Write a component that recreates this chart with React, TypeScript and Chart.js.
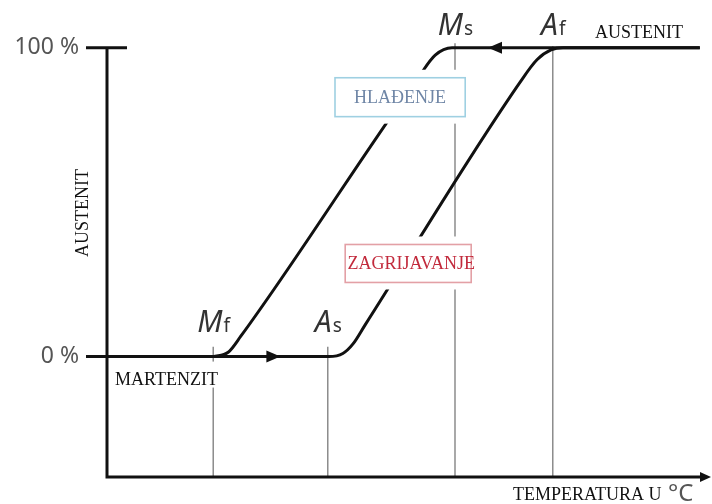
import React, { useEffect, useRef } from "react";
import { Chart, registerables } from "chart.js";

Chart.register(...registerables);

// Temperature (arbitrary units 0..100) vs. austenite fraction (%)
const heatingTemp = [0, 37, 39.3, 41, 43, 69, 71.7, 74, 76, 98.8];
const heatingPct = [0, 0, 1.0, 4.1, 10.2, 89.3, 96.2, 99.3, 100, 100];

const coolingTemp = [17.7, 20.2, 22.3, 52, 54.7, 57.5, 98.8];
const coolingPct = [0, 1.4, 6.6, 90.7, 97.6, 100, 100];

const markerMain = ["M", "A", "M", "A"];
const markerSub = ["f", "s", "s", "f"];
const markerTemp = [17.7, 36.8, 58, 74.3];
const markerTop = [3.2, 3.2, 101.5, 100.5];
const markerLabelPct = [7.8, 7.8, 104.2, 104.2];

const yTickValues = [100, 0];
const yTickLabels = ["100 %", "0 %"];

const axisMin = { x: 0, y: -39 };
const axisMax = { x: 100, y: 109 };

const boxTexts = ["HLAĐENJE", "ZAGRIJAVANJE"];
const boxX0 = [38, 39.7];
const boxX1 = [59.7, 60.7];
const boxYTop = [90.3, 36.3];
const boxYBottom = [77.7, 24.0];
const boxBorder = ["#9fd0e2", "#e3a0a6"];
const boxColor = ["#6f86a6", "#c22a3c"];

const arrowTip = [{ x: 28.9, y: 0, dir: 1 }, { x: 63.5, y: 100, dir: -1 }];

const SERIF = '"Liberation Serif", "Times New Roman", serif';
const SANS = '"Noto Sans", "Open Sans", sans-serif';

function pts(xs: number[], ys: number[]) {
  return xs.map((x, i) => ({ x, y: ys[i] }));
}

const overlay = {
  id: "overlay",
  afterDatasetsDraw(chart: any) {
    const ctx: CanvasRenderingContext2D = chart.ctx;
    const xs = chart.scales.x;
    const ys = chart.scales.y;
    const X = (v: number) => xs.getPixelForValue(v);
    const Y = (v: number) => ys.getPixelForValue(v);
    const area = chart.chartArea;
    ctx.save();

    // axes
    ctx.strokeStyle = "#111";
    ctx.lineWidth = 3;
    ctx.lineCap = "butt";
    ctx.beginPath();
    ctx.moveTo(area.left, Y(100));
    ctx.lineTo(area.left, area.bottom);
    ctx.lineTo(area.right - 2, area.bottom);
    ctx.stroke();
    // x axis arrow
    ctx.fillStyle = "#111";
    ctx.beginPath();
    ctx.moveTo(711, area.bottom);
    ctx.lineTo(700, area.bottom - 5);
    ctx.lineTo(700, area.bottom + 5);
    ctx.closePath();
    ctx.fill();

    // y ticks
    ctx.beginPath();
    ctx.moveTo(area.left - 21, Y(100));
    ctx.lineTo(area.left + 20, Y(100));
    ctx.moveTo(area.left - 21, Y(0));
    ctx.lineTo(area.left, Y(0));
    ctx.stroke();

    ctx.fillStyle = "#555";
    ctx.font = `23px ${SANS}`;
    ctx.textAlign = "right";
    ctx.textBaseline = "middle";
    yTickValues.forEach((v, i) => {
      ctx.fillText(yTickLabels[i], area.left - 28, Y(v));
    });

    // arrows on curves
    ctx.fillStyle = "#111";
    arrowTip.forEach((a) => {
      const tx = X(a.x);
      const ty = Y(a.y);
      ctx.beginPath();
      ctx.moveTo(tx, ty);
      ctx.lineTo(tx - a.dir * 14, ty - 6);
      ctx.lineTo(tx - a.dir * 14, ty + 6);
      ctx.closePath();
      ctx.fill();
    });

    // boxes
    boxTexts.forEach((t, i) => {
      const x0 = X(boxX0[i]);
      const x1 = X(boxX1[i]);
      const y0 = Y(boxYTop[i]);
      const y1 = Y(boxYBottom[i]);
      ctx.fillStyle = "#fff";
      ctx.fillRect(x0 - 7, y0 - 8, x1 - x0 + 14, y1 - y0 + 15);
      ctx.strokeStyle = boxBorder[i];
      ctx.lineWidth = 1.6;
      ctx.strokeRect(x0, y0, x1 - x0, y1 - y0);
      ctx.fillStyle = boxColor[i];
      ctx.font = `18px ${SERIF}`;
      ctx.textAlign = "center";
      ctx.textBaseline = "middle";
      ctx.fillText(t, (x0 + x1) / 2 + (i === 1 ? 3 : 0), (y0 + y1) / 2 + 1);
    });

    // marker labels
    markerMain.forEach((m, i) => {
      ctx.font = `italic 30px ${SANS}`;
      const w1 = ctx.measureText(m).width;
      ctx.font = `19px ${SANS}`;
      const w2 = ctx.measureText(markerSub[i]).width;
      const start = X(markerTemp[i]) - (w1 + w2) / 2;
      const base = Y(markerLabelPct[i]);
      ctx.fillStyle = "#333";
      ctx.textAlign = "left";
      ctx.textBaseline = "alphabetic";
      ctx.font = `italic 30px ${SANS}`;
      ctx.fillText(m, start, base);
      ctx.font = `19px ${SANS}`;
      ctx.fillText(markerSub[i], start + w1 + 1, base);
    });

    // MARTENZIT with white background
    ctx.font = `18px ${SERIF}`;
    ctx.textAlign = "left";
    ctx.textBaseline = "alphabetic";
    const mw = ctx.measureText("MARTENZIT").width;
    ctx.fillStyle = "#fff";
    ctx.fillRect(113, Y(0) + 5, mw + 6, 26);
    ctx.fillStyle = "#111";
    ctx.fillText("MARTENZIT", 115, Y(0) + 28);

    // AUSTENIT top right
    ctx.fillText("AUSTENIT", 595, 38);

    // axis titles
    ctx.fillText("TEMPERATURA U", 513, 500);
    ctx.fillStyle = "#555";
    ctx.font = `24px ${SANS}`;
    ctx.fillText("°C", 668, 501);

    ctx.save();
    ctx.translate(88, 213);
    ctx.rotate(-Math.PI / 2);
    ctx.fillStyle = "#111";
    ctx.font = `18px ${SERIF}`;
    ctx.textAlign = "center";
    ctx.textBaseline = "alphabetic";
    ctx.fillText("AUSTENIT", 0, 0);
    ctx.restore();

    ctx.restore();
  },
};

export default function App() {
  const ref = useRef<HTMLCanvasElement>(null);
  useEffect(() => {
    document.body.style.margin = "0";
    const canvas = ref.current!;
    const vertical = markerTemp.map((t, i) => ({
      data: [
        { x: t, y: axisMin.y },
        { x: t, y: markerTop[i] },
      ],
      borderColor: "#7a7a7a",
      borderWidth: 1.3,
      pointRadius: 0,
      order: 5,
      clip: false as any,
    }));
    const chart = new Chart(canvas, {
      type: "line",
      data: {
        datasets: [
          {
            label: "Zagrijavanje",
            data: pts(heatingTemp, heatingPct),
            borderColor: "#111",
            borderWidth: 3,
            pointRadius: 0,
            cubicInterpolationMode: "monotone",
            order: 1,
            clip: false as any,
          },
          {
            label: "Hlađenje",
            data: pts(coolingTemp, coolingPct),
            borderColor: "#111",
            borderWidth: 3,
            pointRadius: 0,
            cubicInterpolationMode: "monotone",
            order: 1,
            clip: false as any,
          },
          ...vertical,
        ] as any,
      },
      options: {
        animation: false,
        responsive: false,
        devicePixelRatio: 1,
        layout: { padding: { left: 107, right: 5, top: 20, bottom: 27 } },
        plugins: { legend: { display: false }, tooltip: { enabled: false } },
        scales: {
          x: { type: "linear", min: axisMin.x, max: axisMax.x, display: false },
          y: { type: "linear", min: axisMin.y, max: axisMax.y, display: false },
        },
      },
      plugins: [overlay],
    });
    return () => chart.destroy();
  }, []);
  return (
    <div style={{ position: "absolute", left: 0, top: 0, width: 712, height: 504, background: "#fff" }}>
      <canvas ref={ref} width={712} height={504} style={{ display: "block" }} />
    </div>
  );
}
